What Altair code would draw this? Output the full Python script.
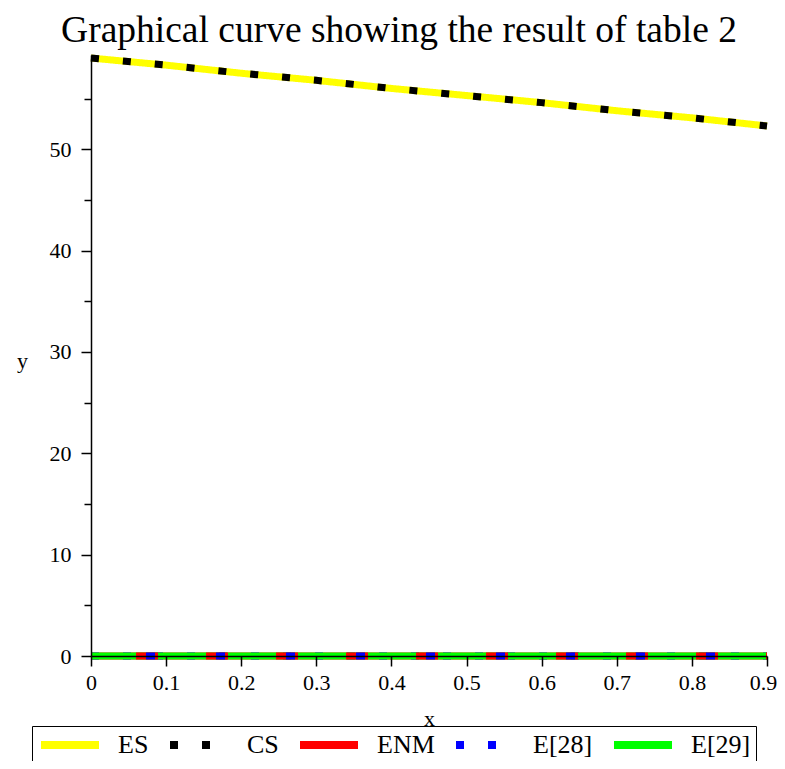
import altair as alt
import pandas as pd

# ---- data ----
x_vals = [0.0, 0.1, 0.2, 0.3, 0.4, 0.5, 0.6, 0.7, 0.8, 0.9]
es_vals = [59.0, 58.3, 57.5, 56.8, 56.0, 55.3, 54.6, 53.8, 53.1, 52.3]
cs_vals = [59.0, 58.3, 57.5, 56.8, 56.0, 55.3, 54.6, 53.8, 53.1, 52.3]
enm_vals = [0.0] * 10
e28_vals = [0.0] * 10
e29_vals = [0.0] * 10

series_names = ["ES", "CS", "ENM", "E[28]", "E[29]"]
series_colors = ["#FFFF00", "#000000", "#FF0000", "#0000FF", "#00FF00"]
series_dash = [[1, 0], [8, 24], [1, 0], [8, 24], [1, 0]]

title_text = "Graphical curve showing the result of  table 2"
x_ticks = [round(i * 0.05, 2) for i in range(19)]
y_ticks = [i * 5 for i in range(12)]

rows = []
for name, vals in zip(series_names, [es_vals, cs_vals, enm_vals, e28_vals, e29_vals]):
    for xv, yv in zip(x_vals, vals):
        rows.append({"x": xv, "y": yv, "series": name})
df = pd.DataFrame(rows)

serif = "Liberation Serif"

x_axis = alt.Axis(
    values=x_ticks,
    format=".1~f",
    labelExpr="round(datum.value * 100) % 10 == 0 ? datum.label : ''",
    tickSize={"condition": {"test": "round(datum.value * 100) % 10 != 0", "value": 6}, "value": 10},
    labelOffset={"condition": {"test": "datum.value > 0.85", "value": -4}, "value": 0},
    labelOverlap=False,
    labelFlush=False,
    labelPadding=6,
    title="x",
    titleX=338,
    titleY=62,
    titleBaseline="middle",
    titleAlign="center",
    zindex=1,
)
y_axis = alt.Axis(
    values=y_ticks,
    labelExpr="datum.value % 10 == 0 ? datum.label : ''",
    tickSize={"condition": {"test": "datum.value % 10 != 0", "value": 7}, "value": 10},
    labelOverlap=False,
    labelFlush=False,
    labelPadding=10,
    title="y",
    titleAngle=0,
    titleX=-69,
    titleY=305,
    titleAlign="center",
    titleBaseline="middle",
    zindex=1,
)

x_enc = alt.X("x:Q", scale=alt.Scale(domain=[0, 0.9], nice=False, zero=False), axis=x_axis)
y_enc = alt.Y("y:Q", scale=alt.Scale(domain=[0, 59.3], nice=False), axis=y_axis)

main = alt.Chart(df).mark_line(strokeWidth=7, strokeCap="butt").encode(
    x=x_enc,
    y=y_enc,
    color=alt.Color(
        "series:N",
        scale=alt.Scale(domain=series_names, range=series_colors),
        title=None,
        legend=alt.Legend(
            orient="none",
            legendX=-59,
            legendY=671,
            direction="horizontal",
            symbolType="M-1,0H4.8",
            symbolSize=400,
            symbolStrokeWidth=8,
            labelFont=serif,
            labelFontSize=26,
            labelColor="black",
            labelOffset=53,
            columnPadding=5,
            padding=5,
            strokeColor="black",
            fillColor="white",
            labelLimit=200,
        ),
    ),
    strokeDash=alt.StrokeDash(
        "series:N",
        scale=alt.Scale(domain=series_names, range=series_dash),
        title=None,
    ),
    order=alt.Order("x:Q"),
)

enm_df = df[df["series"] == "ENM"]
e28_df = df[df["series"] == "E[28]"]

red_patch = alt.Chart(enm_df).mark_line(
    strokeWidth=7, strokeCap="butt", color="#FF0000", strokeDash=[22, 48], strokeDashOffset=-45
).encode(x=alt.X("x:Q"), y=alt.Y("y:Q"))
blue_patch = alt.Chart(e28_df).mark_line(
    strokeWidth=7, strokeCap="butt", color="#0000FF", strokeDash=[9, 61], strokeDashOffset=-55
).encode(x=alt.X("x:Q"), y=alt.Y("y:Q"))

chart = alt.layer(main, red_patch, blue_patch).properties(
    width=676,
    height=601,
    padding={"left": 83, "top": 47, "right": 10, "bottom": 105},
    autosize=alt.AutoSizeParams(type="none"),
    title=alt.TitleParams(
        text=title_text,
        font=serif,
        fontSize=37.5,
        fontWeight="normal",
        color="black",
        anchor="middle",
        dx=-30,
        dy=15,
        offset=10,
    ),
).configure_view(stroke=None).configure_axis(
    grid=False,
    domainColor="black",
    domainWidth=1.5,
    tickColor="black",
    tickWidth=1.5,
    labelFont=serif,
    labelFontSize=22,
    labelColor="black",
    titleFont=serif,
    titleFontSize=22,
    titleFontWeight="normal",
    titleColor="black",
)

chart.save("out.html", embed_options={"renderer": "svg", "actions": False})
